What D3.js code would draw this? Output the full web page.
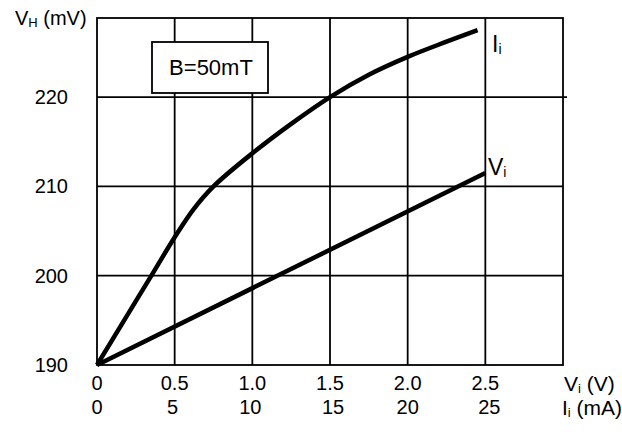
<!DOCTYPE html>
<html>
<head>
<meta charset="utf-8">
<script src="https://cdn.jsdelivr.net/npm/d3@7"></script>
<style>
  body { margin: 0; background: #fff; }
  svg { display: block; font-family: "Liberation Sans", Arial, sans-serif; }
</style>
</head>
<body>
<svg width="622" height="439"></svg>
<script>
// input voltage (V) on x, Hall voltage (mV) on y; 1 V <-> 10 mA
const vTicks = [0, 0.5, 1.0, 1.5, 2.0, 2.5];
const vTickLabels = ["0", "0.5", "1.0", "1.5", "2.0", "2.5"];
const iTickLabels = ["0", "5", "10", "15", "20", "25"];
const yTicks = [190, 200, 210, 220];

const viSeries = [[0, 190], [2.5, 211.5]];
const iiSeries = [
  [0, 190], [0.35, 200], [0.5, 204.3], [0.62, 207.4], [0.75, 210],
  [1.0, 213.7], [1.25, 217], [1.5, 220], [1.75, 222.5], [2.0, 224.5],
  [2.25, 226.2], [2.45, 227.5]
];

const svg = d3.select("svg");
const pL = 97, pR = 563, pT = 18, pB = 365;

const x = d3.scaleLinear().domain([0, 3]).range([pL, pR]);
const y = d3.scaleLinear().domain([190, 228.85]).range([pB, pT]);

// grid
const grid = svg.append("g").attr("stroke", "#000").attr("stroke-width", 1.8);
grid.selectAll("line.v").data(vTicks.slice(1)).enter().append("line")
  .attr("x1", d => x(d)).attr("x2", d => x(d))
  .attr("y1", pT).attr("y2", pB);
grid.selectAll("line.h").data(yTicks.slice(1)).enter().append("line")
  .attr("x1", pL).attr("x2", d => d === 220 ? pR + 4 : pR)
  .attr("y1", d => y(d)).attr("y2", d => y(d));
svg.append("rect")
  .attr("x", pL).attr("y", pT)
  .attr("width", pR - pL).attr("height", pB - pT)
  .attr("fill", "none").attr("stroke", "#000").attr("stroke-width", 1.8);

// B box
svg.append("rect")
  .attr("x", 152).attr("y", 42).attr("width", 116).attr("height", 51)
  .attr("fill", "#fff").attr("stroke", "#000").attr("stroke-width", 1.8);
svg.append("text").attr("x", 211).attr("y", 75)
  .attr("text-anchor", "middle").attr("font-size", 22).text("B=50mT");

// curves
const line = d3.line().x(d => x(d[0])).y(d => y(d[1]));
svg.append("path").datum(viSeries).attr("d", line)
  .attr("fill", "none").attr("stroke", "#000").attr("stroke-width", 4.5);
svg.append("path").datum(iiSeries).attr("d", line.curve(d3.curveCatmullRom))
  .attr("fill", "none").attr("stroke", "#000").attr("stroke-width", 4.5);

// y labels
svg.selectAll("text.y").data(yTicks).enter().append("text")
  .attr("x", 68).attr("y", d => y(d) + 7)
  .attr("text-anchor", "end").attr("font-size", 20).text(d => d);

// x labels (two rows: voltage and current)
const iNudge = [0, -2, -2, 3, 0, 4];
svg.selectAll("text.v").data(vTicks).enter().append("text")
  .attr("x", d => x(d)).attr("y", 390)
  .attr("text-anchor", "middle").attr("font-size", 20)
  .text((d, i) => vTickLabels[i]);
svg.selectAll("text.i").data(vTicks).enter().append("text")
  .attr("x", (d, i) => x(d) + iNudge[i]).attr("y", 414)
  .attr("text-anchor", "middle").attr("font-size", 20)
  .text((d, i) => iTickLabels[i]);

function sub(t, main, s, rest, size) {
  t.append("tspan").text(main);
  t.append("tspan").attr("font-size", size).attr("dy", 2).text(s);
  if (rest) t.append("tspan").attr("dy", -2).text(rest);
}
sub(svg.append("text").attr("x", 564).attr("y", 391).attr("font-size", 21), "V", "i", " (V)", 13);
sub(svg.append("text").attr("x", 562).attr("y", 415).attr("font-size", 21), "I", "i", " (mA)", 13);
sub(svg.append("text").attr("x", 15).attr("y", 25).attr("font-size", 20), "V", "H", " (mV)", 13);
sub(svg.append("text").attr("x", 492).attr("y", 52).attr("font-size", 23), "I", "i", null, 14);
sub(svg.append("text").attr("x", 488).attr("y", 175).attr("font-size", 23), "V", "i", null, 14);
</script>
</body>
</html>
